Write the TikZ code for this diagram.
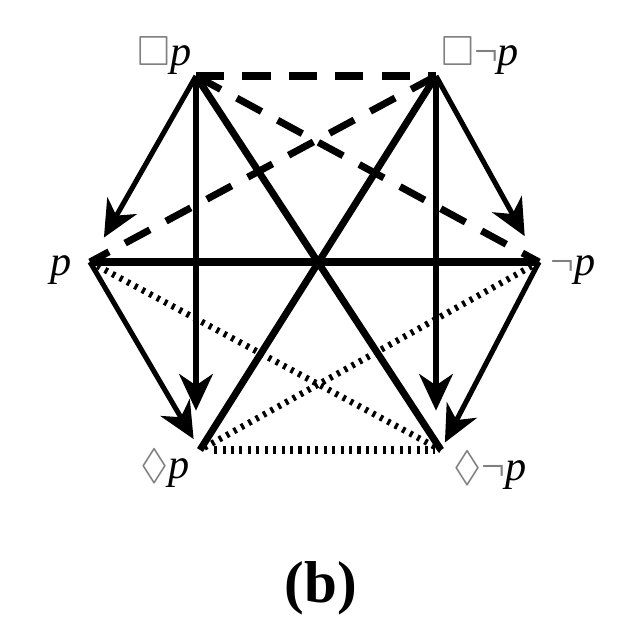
\documentclass[tikz,border=0pt]{standalone}
\usepackage{amssymb}
\usepackage{fontspec}
\setmainfont{Liberation Serif}
\usepackage{tikz}
\usetikzlibrary{arrows.meta}
\tikzset{>={Stealth[length=26pt,width=24pt,inset=8pt]}}
\newcommand{\gsym}[1]{\textcolor{gray}{$#1$}}
\newcommand{\gneg}{\textcolor{gray}{¬}}
\tikzset{
	lbl/.style={font=\fontsize{30}{36}\selectfont, inner sep=0pt},
	impl/.style={->, line width=3.6pt},
	contra/.style={line width=5pt},
	contrary/.style={line width=5pt, dash pattern=on 20pt off 13pt},
	subcon/.style={line width=4.5pt, dash pattern=on 2.2pt off 3.8pt},
}

\begin{document}
\begin{tikzpicture}[x=0.025cm,y=-0.025cm]
	\useasboundingbox (0,0) rectangle (638,644);
	\coordinate (Bp) at (196,76);
	\coordinate (Bnp) at (436,76);
	\coordinate (P) at (90,262);
	\coordinate (NP) at (539,262);
	\coordinate (Dp) at (200,450);
	\coordinate (Dnp) at (441,450);

	% subcontraries
	\draw[subcon] (P) -- (Dnp);
	\draw[subcon] (NP) -- (Dp);
	\draw[subcon, line width=6pt, shorten <=10pt, shorten >=4pt] (Dp) -- (Dnp);
	% contraries
	\draw[contrary] (Bp) -- (Bnp);
	\draw[contrary] (Bp) -- (NP);
	\draw[contrary] (Bnp) -- (P);
	% contradictories
	\draw[contra] (Bp) -- (Dnp);
	\draw[contra] (Bnp) -- (Dp);
	\draw[contra] (P) -- (NP);
	% subalterns
	\draw[impl, shorten >=20pt] (Bp) -- (P);
	\draw[impl, shorten >=21pt] (Bnp) -- (NP);
	\draw[impl, shorten >=28pt] (Bp) -- (Bp |- Dp);
	\draw[impl, shorten >=28pt] (Bnp) -- (Bnp |- Dnp);
	\draw[impl, shorten >=9pt] (P) -- (Dp);
	\draw[impl, shorten >=6pt] (NP) -- (Dnp);

	\node[lbl, anchor=base east] (lBp) at (192,66) {\gsym{\Box}\textit{p}};
	\node[lbl, anchor=base west] (lBnp) at (441,66) {\gsym{\Box}\gneg\textit{p}};
	\node[lbl, anchor=base east] (lP) at (72,275) {\textit{p}};
	\node[lbl, anchor=base west] (lNP) at (550,275) {\gneg\textit{p}};
	\node[lbl, anchor=base east] (lDp) at (190,478) {\gsym{\Diamond}\textit{p}};
	\node[lbl, anchor=base west] (lDnp) at (453,480) {\gsym{\Diamond}\gneg\textit{p}};
	\node[font=\fontsize{42}{50}\selectfont\bfseries, inner sep=0pt, anchor=base] (cap) at (321,602) {(b)};
\end{tikzpicture}
\end{document}
